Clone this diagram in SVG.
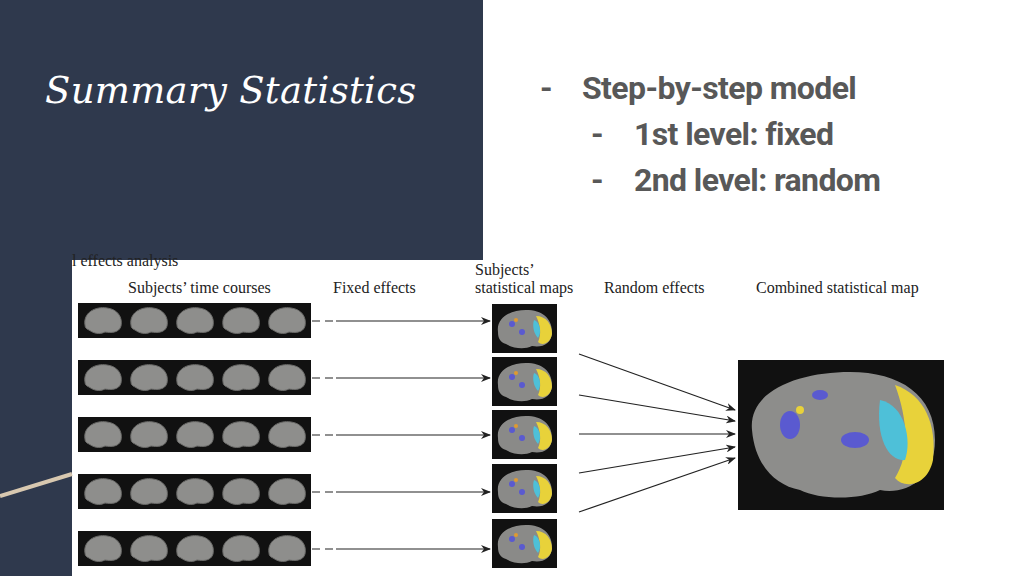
<svg xmlns="http://www.w3.org/2000/svg" width="1024" height="576" viewBox="0 0 1024 576">
<defs>
<style>
.b{font-family:Roboto,"Liberation Sans",sans-serif;font-weight:bold;font-size:32px;fill:#585858;letter-spacing:-0.6px}
.f{font-family:"Liberation Serif",serif;font-size:16px;fill:#222}
.strip{fill:#111}
.br{fill:#8e8e8c;stroke:#6a6a68;stroke-width:1}
.ln{stroke:#222;stroke-width:1.2;fill:none}
</style>
<marker id="ah" markerWidth="10" markerHeight="8" refX="9" refY="4" orient="auto" markerUnits="userSpaceOnUse"><path d="M0,0 L10,4 L0,8 L3,4 Z" fill="#222"/></marker>
<g id="brain"><path class="br" d="M-18,4 C-20,-8 -8,-15 4,-13 C14,-12 20,-4 18,5 C16,12 8,12 2,11 C-4,14 -10,12 -14,9 C-17,8 -18,6 -18,4 Z"/></g>
<g id="strip"><rect class="strip" x="0" y="0" width="233" height="35"/><use href="#brain" x="25" y="18"/><use href="#brain" x="71" y="18"/><use href="#brain" x="117" y="18"/><use href="#brain" x="163" y="18"/><use href="#brain" x="209" y="18"/></g>
<g id="map"><rect x="0" y="0" width="65" height="49" fill="#111"/><path d="M6,28 C4,14 18,6 34,6 C50,6 60,14 60,28 C60,40 50,44 40,42 C32,46 20,44 14,40 C8,38 6,34 6,28 Z" fill="#8a8a88"/><path d="M44,12 C54,12 60,20 60,30 C58,40 50,42 46,38 C50,30 48,20 44,12 Z" fill="#e8d23a"/><path d="M42,16 C48,18 50,28 46,34 C42,30 40,22 42,16 Z" fill="#4ec0d8"/><circle cx="20" cy="20" r="3" fill="#5a5ad0"/><circle cx="30" cy="28" r="3" fill="#5a5ad0"/><circle cx="24" cy="16" r="2" fill="#e09a30"/></g>
</defs>
<rect width="1024" height="576" fill="#fff"/>
<rect x="0" y="0" width="483" height="260" fill="#2f394d"/>
<rect x="0" y="260" width="72" height="316" fill="#2f394d"/>
<path d="M0,496 L72,474" stroke="#d8c8b0" stroke-width="4"/>
<text x="45" y="103" font-family="'DejaVu Serif','Liberation Serif',serif" font-style="italic" font-size="37" fill="#fff" letter-spacing="0.3">Summary Statistics</text>
<g id="bullets">
<text class="b" x="540" y="99">-</text><text class="b" x="582" y="99">Step-by-step model</text>
<text class="b" x="591" y="145">-</text><text class="b" x="634" y="145">1st level: fixed</text>
<text class="b" x="591" y="191">-</text><text class="b" x="634" y="191">2nd level: random</text>
</g>
<g id="figure">
<text class="f" x="72" y="266">l effects analysis</text>
<text class="f" x="128" y="293">Subjects’ time courses</text>
<text class="f" x="333" y="293">Fixed effects</text>
<text class="f" x="475" y="275">Subjects’</text>
<text class="f" x="475" y="293">statistical maps</text>
<text class="f" x="604" y="293">Random effects</text>
<text class="f" x="756" y="293">Combined statistical map</text>
</g>
<g id="strips">
<use href="#strip" x="78" y="303"/><use href="#strip" x="78" y="360"/><use href="#strip" x="78" y="417"/><use href="#strip" x="78" y="474"/><use href="#strip" x="78" y="531"/>
</g>
<g id="maps">
<use href="#map" x="492" y="304"/><use href="#map" x="492" y="357"/><use href="#map" x="492" y="410"/><use href="#map" x="492" y="464"/><use href="#map" x="492" y="519"/>
</g>
<g id="combined">
<rect x="738" y="360" width="206" height="150" fill="#111"/>
<path d="M752,430 C748,390 800,372 850,372 C900,372 935,395 935,440 C935,480 905,495 880,490 C860,500 820,500 800,490 C775,485 755,465 752,430 Z" fill="#8d8d8b"/>
<path d="M895,385 C925,395 937,425 933,460 C928,485 905,490 895,478 C910,455 908,420 895,385 Z" fill="#e8d23a"/>
<path d="M880,400 C905,405 912,440 905,460 C890,462 875,440 880,400 Z" fill="#4ec0d8"/>
<ellipse cx="790" cy="425" rx="10" ry="14" fill="#5a5ad0"/><ellipse cx="855" cy="440" rx="14" ry="8" fill="#5a5ad0"/><ellipse cx="820" cy="395" rx="8" ry="5" fill="#5a5ad0"/><circle cx="800" cy="410" r="4" fill="#e8d23a"/>
</g>
<g id="connectors">
<path class="ln" stroke-dasharray="8,5" d="M312,321 H333 M312,378 H333 M312,435 H333 M312,492 H333 M312,549 H333"/>
<path class="ln" marker-end="url(#ah)" d="M336,321 H490"/><path class="ln" marker-end="url(#ah)" d="M336,378 H490"/><path class="ln" marker-end="url(#ah)" d="M336,435 H490"/><path class="ln" marker-end="url(#ah)" d="M336,492 H490"/><path class="ln" marker-end="url(#ah)" d="M336,549 H490"/>
<path class="ln" marker-end="url(#ah)" d="M579,354 L735,410"/><path class="ln" marker-end="url(#ah)" d="M579,395 L735,421"/><path class="ln" marker-end="url(#ah)" d="M579,434 L735,434"/><path class="ln" marker-end="url(#ah)" d="M579,473 L735,447"/><path class="ln" marker-end="url(#ah)" d="M579,512 L735,458"/>
</g>
</svg>
